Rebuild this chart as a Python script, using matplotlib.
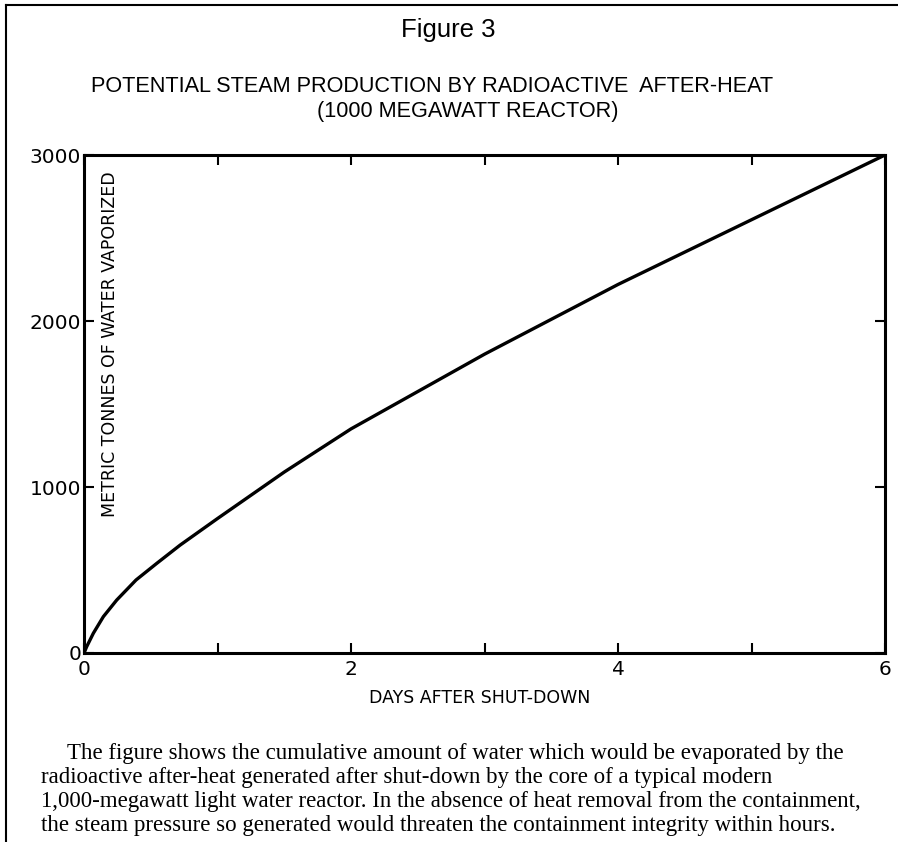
import matplotlib
matplotlib.use("Agg")
import matplotlib.pyplot as plt
from matplotlib.lines import Line2D

# values
days = [0, 0.02, 0.07, 0.145, 0.245, 0.39, 0.545, 0.72, 1.0, 1.5, 2.0, 3.0, 4.0, 5.0, 6.0]
tonnes = [0, 38, 119, 219, 319, 440, 540, 650, 810, 1090, 1350, 1800, 2220, 2610, 3000]

x_ticks = [0, 1, 2, 3, 4, 5, 6]
x_tick_labels = ["0", "", "2", "", "4", "", "6"]
y_ticks = [0, 1000, 2000, 3000]
y_tick_labels = ["0", "1000", "2000", "3000"]

caption = [
    "The figure shows the cumulative amount of water which would be evaporated by the",
    "radioactive after-heat generated after shut-down by the core of a typical modern",
    "1,000-megawatt light water reactor. In the absence of heat removal from the containment,",
    "the steam pressure so generated would threaten the containment integrity within hours.",
]

W, H = 898, 842
fig = plt.figure(figsize=(W / 100, H / 100), dpi=100)
ax = fig.add_axes([84 / W, 1 - 653 / H, (885 - 84) / W, (653 - 155) / H])

ax.plot(days, tonnes, color="black", linewidth=2.4, solid_capstyle="round")
ax.set_xlim(0, 6)
ax.set_ylim(0, 3000)

for s in ax.spines.values():
    s.set_linewidth(2.2)

ax.set_xticks(x_ticks)
ax.set_xticklabels(x_tick_labels, fontsize=14.5)
ax.set_yticks(y_ticks)
ax.set_yticklabels(y_tick_labels, fontsize=14.5)
ax.tick_params(direction="in", length=7, width=1.5, top=True, right=True)
ax.tick_params(axis="x", pad=5)
ax.tick_params(axis="y", pad=2)

ax.text(0.032, 0.62, "METRIC TONNES OF WATER VAPORIZED", transform=ax.transAxes,
        rotation=90, ha="center", va="center", fontsize=12.5)

fig.text(480 / W, 1 - 698 / H, "DAYS AFTER SHUT-DOWN", ha="center", va="center", fontsize=12.5)

fig.text(448 / W, 1 - 30 / H, "Figure 3", ha="center", va="center",
         family="Liberation Sans", fontsize=18.5)
fig.text(432 / W, 1 - 87 / H, "POTENTIAL STEAM PRODUCTION BY RADIOACTIVE  AFTER-HEAT",
         ha="center", va="center", family="Liberation Sans", fontsize=15.6)
fig.text(468 / W, 1 - 111 / H, "(1000 MEGAWATT REACTOR)",
         ha="center", va="center", family="Liberation Sans", fontsize=15.6)

for i, line in enumerate(caption):
    x0 = 67 if i == 0 else 41
    fig.text(x0 / W, 1 - (753 + 24.3 * i) / H, line, ha="left", va="center",
             family="Liberation Serif", fontsize=16.5)

# page border lines
fig.add_artist(Line2D([6 / W, 6 / W], [0, 1 - 5 / H], color="black", linewidth=1.5))
fig.add_artist(Line2D([6 / W, 1], [1 - 5 / H, 1 - 5 / H], color="black", linewidth=1.5))

fig.savefig("out.png", dpi=100)
